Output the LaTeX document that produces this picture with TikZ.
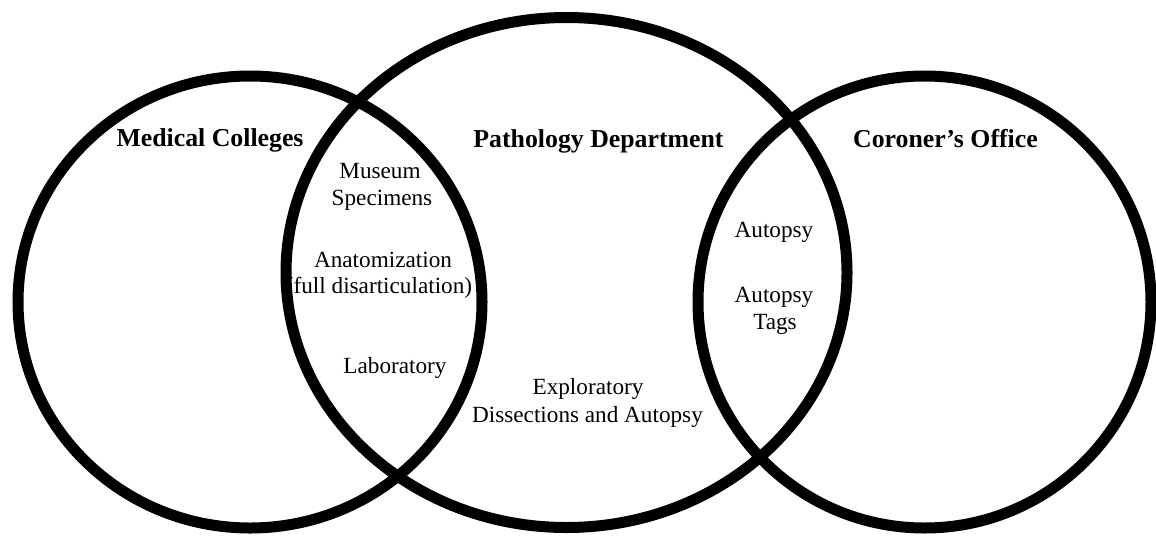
\documentclass[tikz,border=0pt]{standalone}
\usepackage{fontspec}
\setmainfont{Liberation Serif}
\tikzset{
  ring/.style={draw=black, line width=11pt},
  head/.style={font=\fontsize{25.8pt}{30pt}\selectfont\bfseries, anchor=base, inner sep=0pt},
  item/.style={font=\fontsize{23.2pt}{27pt}\selectfont, anchor=base, inner sep=0pt}
}
\begin{document}
\begin{tikzpicture}[x=1pt,y=-1pt]
\useasboundingbox[fill=white] (0,0) rectangle (1156,536);
% circles
\draw[ring] (250,302) ellipse [x radius=232pt, y radius=226pt];
\draw[ring] (566.5,272.5) ellipse [x radius=280.5pt, y radius=255pt];
\draw[ring] (924.5,302) ellipse [x radius=226.5pt, y radius=226pt];
% headings
\node[head] (med) at (210,146) {Medical Colleges};
\node[head] (path) at (598.5,147) {Pathology Department};
\node[head] (cor) at (945.5,147) {Coroner’s Office};
% left lens
\node[item] (mus1) at (380,178) {Museum};
\node[item] (mus2) at (382,205) {Specimens};
\node[item] (ana1) at (383,267) {Anatomization};
\node[item] (ana2) at (379,293) {(full disarticulation)};
\node[item] (lab) at (395,373) {Laboratory};
% middle
\node[item] (exp1) at (588,394) {Exploratory};
\node[item] (exp2) at (587.5,422) {Dissections and Autopsy};
% right lens
\node[item] (aut) at (774,237) {Autopsy};
\node[item] (tag1) at (774,302) {Autopsy};
\node[item] (tag2) at (775,329) {Tags};
\end{tikzpicture}
\end{document}
